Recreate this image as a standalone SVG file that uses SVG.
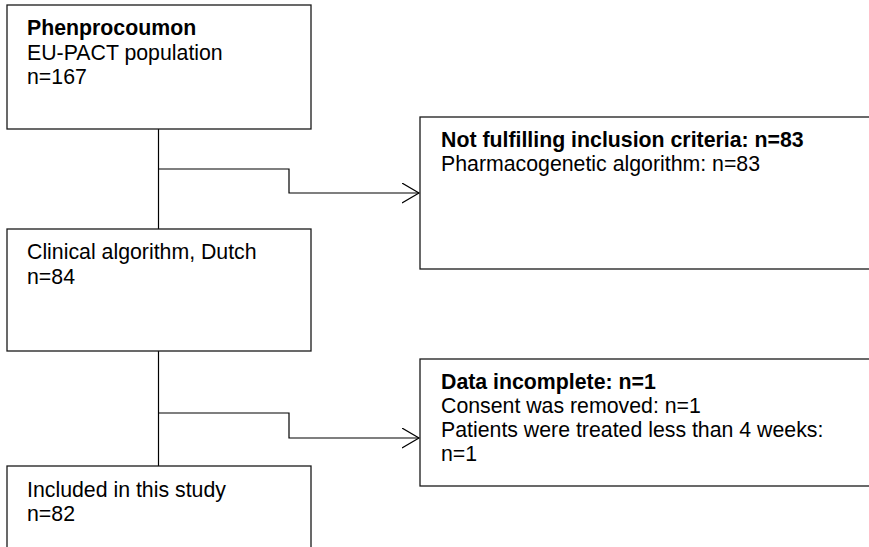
<svg xmlns="http://www.w3.org/2000/svg" width="869" height="547" viewBox="0 0 869 547">
  <style>
    .box { fill: #ffffff; stroke: #1a1a1a; stroke-width: 1.3; }
    .t { font-family: "Liberation Sans", Arial, sans-serif; font-size: 21.3px; fill: #000000; }
    .b { font-weight: bold; }
    .conn { fill: none; stroke: #000000; stroke-width: 1.2; }
  </style>
  <defs>
    <marker id="arrow" markerWidth="20" markerHeight="24" refX="17" refY="10" orient="auto" markerUnits="userSpaceOnUse">
      <path d="M0,0 L17,10 L0,20" fill="none" stroke="#000000" stroke-width="1.2"/>
    </marker>
  </defs>
  <rect width="869" height="547" fill="#ffffff"/>

  <g id="connectors">
    <line class="conn" x1="158.5" y1="129" x2="158.5" y2="229"/>
    <polyline class="conn" points="158.5,169 289,169 289,193 419,193" marker-end="url(#arrow)"/>
    <line class="conn" x1="158.5" y1="351" x2="158.5" y2="466"/>
    <polyline class="conn" points="158.5,413 289,413 289,438 419,438" marker-end="url(#arrow)"/>
  </g>

  <g id="node-phenprocoumon">
    <rect class="box" x="7" y="5" width="304" height="124"/>
    <text class="t b" x="27" y="35">Phenprocoumon</text>
    <text class="t" x="27" y="60">EU-PACT population</text>
    <text class="t" x="27" y="84">n=167</text>
  </g>

  <g id="node-clinical">
    <rect class="box" x="7" y="229" width="304" height="122"/>
    <text class="t" x="27" y="259">Clinical algorithm, Dutch</text>
    <text class="t" x="27" y="284">n=84</text>
  </g>

  <g id="node-included">
    <rect class="box" x="7" y="466" width="304" height="100"/>
    <text class="t" x="27" y="497">Included in this study</text>
    <text class="t" x="27" y="521">n=82</text>
  </g>

  <g id="node-not-fulfilling">
    <rect class="box" x="420" y="117" width="470" height="152"/>
    <text class="t b" x="441" y="147">Not fulfilling inclusion criteria: n=83</text>
    <text class="t" x="441" y="171">Pharmacogenetic algorithm: n=83</text>
  </g>

  <g id="node-data-incomplete">
    <rect class="box" x="420" y="359" width="470" height="127"/>
    <text class="t b" x="441" y="389">Data incomplete: n=1</text>
    <text class="t" x="441" y="413">Consent was removed: n=1</text>
    <text class="t" x="441" y="437">Patients were treated less than 4 weeks:</text>
    <text class="t" x="441" y="461">n=1</text>
  </g>
</svg>
